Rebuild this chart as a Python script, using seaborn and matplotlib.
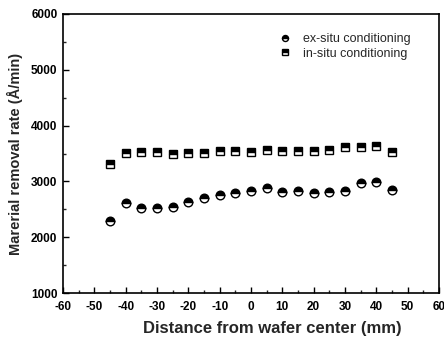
import matplotlib
matplotlib.use("Agg")
import matplotlib.pyplot as plt
import seaborn as sns
import pandas as pd
from matplotlib.ticker import MultipleLocator

distance = [-45, -40, -35, -30, -25, -20, -15, -10, -5, 0, 5, 10, 15, 20, 25, 30, 35, 40, 45]
ex_situ = [2290, 2615, 2525, 2525, 2540, 2630, 2700, 2755, 2800, 2833, 2876, 2805, 2833, 2797, 2805, 2822, 2966, 2995, 2846]
in_situ = [3320, 3503, 3521, 3521, 3485, 3503, 3514, 3550, 3550, 3530, 3568, 3550, 3550, 3550, 3563, 3622, 3622, 3634, 3532]
series_names = ["ex-situ conditioning", "in-situ conditioning"]

sns.set_style("white")
plt.rcParams['font.family'] = ['Liberation Sans', 'DejaVu Sans']
plt.rcParams['axes.unicode_minus'] = False

fig = plt.figure(figsize=(4.44, 3.38), dpi=100)
ax = fig.add_axes([63/444, 1 - 293/338, (439 - 63)/444, (293 - 14)/338])

df_ex = pd.DataFrame({"x": distance, "y": ex_situ})
df_in = pd.DataFrame({"x": distance, "y": in_situ})

sns.lineplot(data=df_ex, x="x", y="y", ax=ax, marker="o", linestyle="", fillstyle="top",
             color="black", markersize=6.2, markeredgewidth=1.0, markeredgecolor="black",
             markerfacecolor="black", markerfacecoloralt="white", label=series_names[0])
sns.lineplot(data=df_in, x="x", y="y", ax=ax, marker="s", linestyle="", fillstyle="top",
             color="black", markersize=5.5, markeredgewidth=1.0, markeredgecolor="black",
             markerfacecolor="black", markerfacecoloralt="white", label=series_names[1])

ax.set_xlim(-60, 60)
ax.set_ylim(1000, 6000)
ax.xaxis.set_major_locator(MultipleLocator(10))
ax.xaxis.set_minor_locator(MultipleLocator(5))
ax.yaxis.set_major_locator(MultipleLocator(1000))
ax.yaxis.set_minor_locator(MultipleLocator(500))
ax.tick_params(axis="both", which="major", direction="in", length=4, width=1, labelsize=8.5, pad=4,
               colors="black")
ax.tick_params(axis="x", which="major", pad=6)
ax.tick_params(axis="both", which="minor", direction="in", length=2, width=1)
ax.tick_params(left=True, bottom=True, which="both")
for lab in ax.get_xticklabels() + ax.get_yticklabels():
    lab.set_fontweight("bold")
for s in ax.spines.values():
    s.set_color("black")
    s.set_linewidth(1.2)

ax.set_xlabel("Distance from wafer center (mm)", fontsize=12, fontweight="bold")
ax.xaxis.set_label_coords((272 - 63) / 376, -0.129)
ax.xaxis.label.set_verticalalignment("center")
ax.set_ylabel("Marerial removal rate (Å/min)", fontsize=10.5, fontweight="bold", labelpad=6)

leg = ax.legend(loc="upper left", bbox_to_anchor=(0.561, 0.949), frameon=False, fontsize=9,
                handletextpad=0.9, borderaxespad=0, labelspacing=0.2, handlelength=1.0,
                markerscale=0.7)

fig.savefig("out.png", dpi=100)
